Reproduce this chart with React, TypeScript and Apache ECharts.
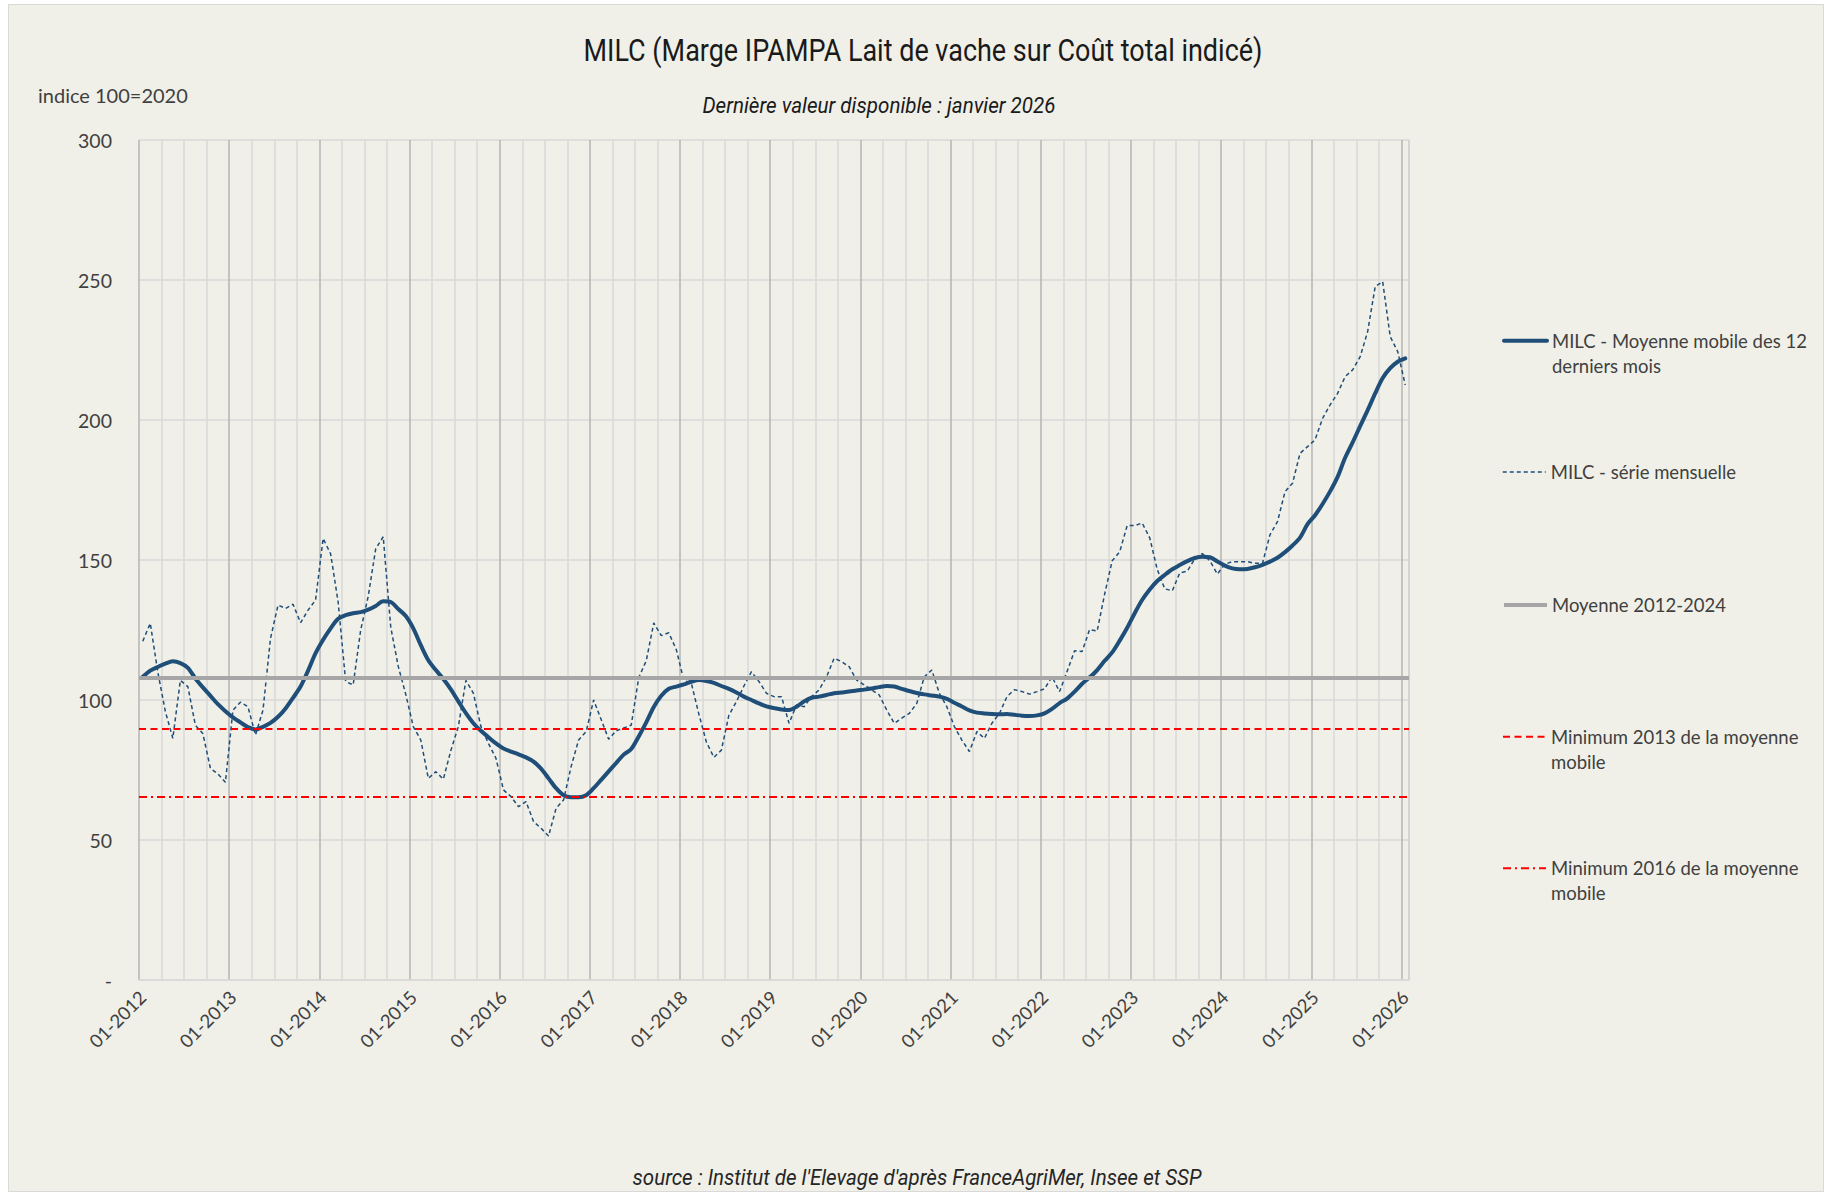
import React, { useEffect, useRef } from 'react';
import * as echarts from 'echarts';

// ---------- Data ----------
const YEARS = [2012, 2013, 2014, 2015, 2016, 2017, 2018, 2019, 2020, 2021, 2022, 2023, 2024, 2025, 2026];
const MONTHS = ['01', '02', '03', '04', '05', '06', '07', '08', '09', '10', '11', '12'];
const LAST_PERIOD = '01-2026';

const CATEGORIES: string[] = [];
for (const y of YEARS) {
  for (const m of MONTHS) {
    CATEGORIES.push(`${m}-${y}`);
    if (`${m}-${y}` === LAST_PERIOD) break;
  }
}

// MILC - moyenne mobile des 12 derniers mois (01-2012 .. 01-2026)
const MA_12 = [
  108.3, 110.5, 111.8, 113, 113.8, 113.2, 111.5, 107.7, 104.5, 101.5, 98.5, 96,
  93.8, 92, 90.3, 89.5, 90.4, 91.8, 94, 97, 100.8, 104.8, 110.5, 116.7,
  121.5, 125.6, 129, 130.3, 131, 131.4, 132.3, 133.6, 135.3, 135, 132.5, 130,
  125.6, 119.6, 114.2, 110.7, 107.5, 103.8, 99.5, 95.3, 91.7, 89, 86.7, 84.5,
  82.7, 81.6, 80.6, 79.5, 78, 75.5, 72, 68.5, 66, 65.3, 65.3, 66,
  68.5, 71.5, 74.5, 77.5, 80.5, 82.5, 87, 92, 97.5, 101.5, 104, 104.8,
  105.6, 106.5, 107.1, 106.8, 106.1, 105, 104, 102.7, 101.2, 100, 98.8, 97.7,
  97.1, 96.6, 96.4, 97.6, 99.5, 100.8, 101.2, 101.8, 102.4, 102.7, 103, 103.4,
  103.7, 104.1, 104.6, 105, 104.8, 104, 103.2, 102.5, 102, 101.6, 101.2, 100.4,
  99, 97.7, 96.3, 95.5, 95.2, 95, 94.9, 95, 94.7, 94.4, 94.3, 94.5,
  95.2, 96.8, 98.9, 100.5, 103, 105.8, 108.1, 110.7, 114, 117, 121.2, 125.8,
  131, 135.8, 139.5, 142.5, 144.7, 146.7, 148.2, 149.6, 150.7, 151.2, 151, 149.5,
  148, 147, 146.7, 146.8, 147.4, 148.3, 149.4, 150.8, 152.8, 155.2, 158, 162.8,
  166, 170, 174.5, 179.7, 186.5, 192, 197.8, 203.5, 209.5, 215, 218.5, 220.8,
  222,
];

// MILC - série mensuelle
const MONTHLY = [
  121, 127.4, 110, 96, 86.3, 107, 104.8, 91, 88, 75.6, 73.6, 70.6,
  96.4, 99.2, 97.6, 87.5, 96.4, 122, 133.9, 132.7, 134.2, 127.6, 132.1, 135.7,
  157.7, 152.2, 135, 106.6, 105.4, 125, 137, 154, 158.3, 126, 112, 102,
  90.5, 85.7, 72, 74.4, 71.7, 82, 90.5, 107, 102.4, 90.5, 84.5, 79.2,
  67.9, 65.5, 61.9, 63.7, 56.6, 54.2, 51.4, 61.3, 64.3, 76.2, 85.7, 88.7,
  100, 93, 86, 89, 90, 91, 108, 114, 127.5, 123, 124, 118,
  107, 106, 95, 85, 79.5, 82.1, 94.6, 99.4, 105, 110.1, 106.6, 102.4,
  101.2, 101.2, 91.7, 98.2, 97.6, 101.2, 103.6, 108.3, 114.9, 113.7, 111.9, 107.1,
  105.4, 103.6, 101.8, 96.4, 91.7, 93.5, 95.2, 98.8, 108.3, 110.7, 102.4, 97.6,
  90.5, 85.7, 81.6, 88.7, 86.3, 91.7, 95.2, 101.2, 103.7, 103, 102.1, 103,
  104, 108.3, 103, 110.2, 117.6, 117.3, 125.2, 124.6, 137.8, 149.7, 152.9, 162.3,
  162.3, 163.2, 157.9, 146.6, 139.7, 139, 145.4, 146, 150.4, 152.3, 149.7, 145,
  148.5, 149.4, 149.4, 149.4, 148.8, 148.8, 159, 163.7, 174.4, 177.4, 188.1, 190.5,
  192.9, 200.6, 205.4, 209.5, 215.5, 217.9, 222.6, 231.6, 247.6, 249.4, 229.8, 224.4,
  212.5,
];

const AVG_2012_2024 = 108;
const MIN_2013_MA = 89.6;
const MIN_2016_MA = 65.5;

const Y_TICKS = [0, 50, 100, 150, 200, 250, 300];

const SERIES_NAMES = [
  'MILC - Moyenne mobile des 12 derniers mois',
  'MILC - série mensuelle',
  'Moyenne 2012-2024',
  'Minimum 2013 de la moyenne mobile',
  'Minimum 2016 de la moyenne mobile',
];
const LEGEND_LABELS = [
  ['MILC - Moyenne mobile des 12', 'derniers mois'],
  ['MILC - série mensuelle'],
  ['Moyenne 2012-2024'],
  ['Minimum 2013 de la moyenne', 'mobile'],
  ['Minimum 2016 de la moyenne', 'mobile'],
];

const TITLE = 'MILC (Marge IPAMPA Lait de vache sur Coût total indicé)';
const SUBTITLE = 'Dernière valeur disponible : janvier 2026';
const Y_UNIT = 'indice 100=2020';
const SOURCE = "source : Institut de l'Elevage d'après FranceAgriMer, Insee et SSP";

// ---------- Styles ----------
const NARROW = "'Roboto', 'Noto Sans', sans-serif";
const SANS = "'Lato', 'Noto Sans', sans-serif";
const BLUE = '#1f4e79';
const RED = '#ff0000';
const GREY = '#a6a6a6';

export default function App() {
  const ref = useRef<HTMLDivElement>(null);

  useEffect(() => {
    if (!ref.current) return;
    const chart = echarts.init(ref.current, undefined, { renderer: 'svg' });

    const legendCenters = [340.7, 472, 605, 736.7, 868.3];
    const legends = SERIES_NAMES.map((name, k) => {
      const lines = LEGEND_LABELS[k];
      const twoLines = lines.length > 1;
      return {
        data: [name],
        orient: 'vertical',
        left: 1502,
        top: legendCenters[k] - (twoLines ? 37.5 : 12.5),
        padding: 0,
        itemWidth: 43,
        itemHeight: 14,
        itemGap: 0,
        selectedMode: false,
        formatter: () => (twoLines ? ' \n' + lines.join('\n') : lines[0]),
        lineStyle: { width: 'inherit' },
        itemStyle: { opacity: 0 },
        textStyle: {
          fontFamily: SANS,
          fontSize: 18.5,
          color: '#404040',
          lineHeight: 25,
        },
      };
    });

    const option: any = {
      animation: false,
      backgroundColor: 'transparent',
      graphic: [
        {
          type: 'text', x: 923, y: 50, scaleX: 0.87, silent: true,
          style: {
            text: TITLE, fontFamily: NARROW, fontSize: 31, fill: '#1a1a1a',
            align: 'center', verticalAlign: 'middle',
          },
        },
        {
          type: 'text', x: 879, y: 105, scaleX: 0.937, silent: true,
          style: {
            text: SUBTITLE, fontFamily: NARROW, fontSize: 22, fontStyle: 'italic', fill: '#1a1a1a',
            align: 'center', verticalAlign: 'middle',
          },
        },
        {
          type: 'text', x: 38, y: 95, silent: true,
          style: {
            text: Y_UNIT, fontFamily: SANS, fontSize: 20, fill: '#404040',
            align: 'left', verticalAlign: 'middle',
          },
        },
        {
          type: 'text', x: 917, y: 1177, scaleX: 0.934, silent: true,
          style: {
            text: SOURCE, fontFamily: NARROW, fontSize: 22, fontStyle: 'italic', fill: '#262626',
            align: 'center', verticalAlign: 'middle',
          },
        },
      ],
      legend: legends,
      grid: { left: 139, top: 140, right: 415, bottom: 212, containLabel: false },
      xAxis: [
        {
          type: 'category',
          data: CATEGORIES,
          boundaryGap: true,
          position: 'bottom',
          axisLine: { show: true, lineStyle: { color: '#d9d9d9', width: 1.5 } },
          axisTick: { show: false },
          axisLabel: {
            interval: (i: number) => i % 12 === 0,
            rotate: 45,
            margin: 14,
            fontFamily: SANS,
            fontSize: 18.5,
            color: '#404040',
          },
          splitLine: {
            show: true,
            interval: (i: number) => i % 12 === 0,
            lineStyle: { color: '#b4b4b4', width: 1.5 },
          },
        },
        {
          type: 'category',
          data: CATEGORIES,
          boundaryGap: true,
          position: 'top',
          axisLine: { show: false },
          axisTick: { show: false },
          axisLabel: { show: false },
          splitLine: {
            show: true,
            interval: (i: number) => i % 3 === 0 && i % 12 !== 0,
            lineStyle: { color: '#d9d9d9', width: 1.5 },
          },
        },
      ],
      yAxis: {
        type: 'value',
        min: Y_TICKS[0],
        max: Y_TICKS[Y_TICKS.length - 1],
        interval: Y_TICKS[1] - Y_TICKS[0],
        axisLine: { show: false },
        axisTick: { show: false },
        axisLabel: {
          formatter: (v: number) => (v === 0 ? '-' : String(v)),
          margin: 27,
          fontFamily: SANS,
          fontSize: 19.5,
          color: '#404040',
        },
        splitLine: { show: true, lineStyle: { color: '#d9d9d9', width: 1.5 } },
      },
      series: [
        {
          name: SERIES_NAMES[0],
          type: 'line',
          data: MA_12,
          symbol: 'none',
          smooth: 0.3,
          color: BLUE,
          lineStyle: { color: BLUE, width: 4, cap: 'round', join: 'round' },
          z: 3,
        },
        {
          name: SERIES_NAMES[1],
          type: 'line',
          data: MONTHLY,
          symbol: 'none',
          color: BLUE,
          lineStyle: { color: BLUE, width: 1.5, type: [4, 3] },
          z: 2,
        },
        {
          name: SERIES_NAMES[2],
          type: 'line',
          data: [],
          symbol: 'none',
          color: GREY,
          lineStyle: { color: GREY, width: 4, type: 'solid' },
          z: 4,
          markLine: {
            silent: true,
            symbol: 'none',
            label: { show: false },
            lineStyle: { color: GREY, width: 4, type: 'solid' },
            data: [{ yAxis: AVG_2012_2024 }],
          },
        },
        {
          name: SERIES_NAMES[3],
          type: 'line',
          data: [],
          symbol: 'none',
          color: RED,
          lineStyle: { color: RED, width: 2, type: [7, 4.5] },
          z: 5,
          markLine: {
            silent: true,
            symbol: 'none',
            label: { show: false },
            lineStyle: { color: RED, width: 2, type: [7, 4.5] },
            data: [{ yAxis: MIN_2013_MA }],
          },
        },
        {
          name: SERIES_NAMES[4],
          type: 'line',
          data: [],
          symbol: 'none',
          color: RED,
          lineStyle: { color: RED, width: 2, type: [8, 4, 2, 4] },
          z: 5,
          markLine: {
            silent: true,
            symbol: 'none',
            label: { show: false },
            lineStyle: { color: RED, width: 2, type: [8, 4, 2, 4] },
            data: [{ yAxis: MIN_2016_MA }],
          },
        },
      ],
    };

    chart.setOption(option);
    return () => chart.dispose();
  }, []);

  return (
    <div style={{ position: 'absolute', left: 0, top: 0, width: 1824, height: 1192, background: '#ffffff', overflow: 'hidden' }}>
      <div
        style={{
          position: 'absolute', left: 8, top: 4, width: 1816, height: 1188,
          background: '#f0f0e8', border: '1px solid #d9d9d9', boxSizing: 'border-box',
        }}
      />
      <div ref={ref} style={{ position: 'absolute', left: 0, top: 0, width: 1824, height: 1192 }} />
    </div>
  );
}
